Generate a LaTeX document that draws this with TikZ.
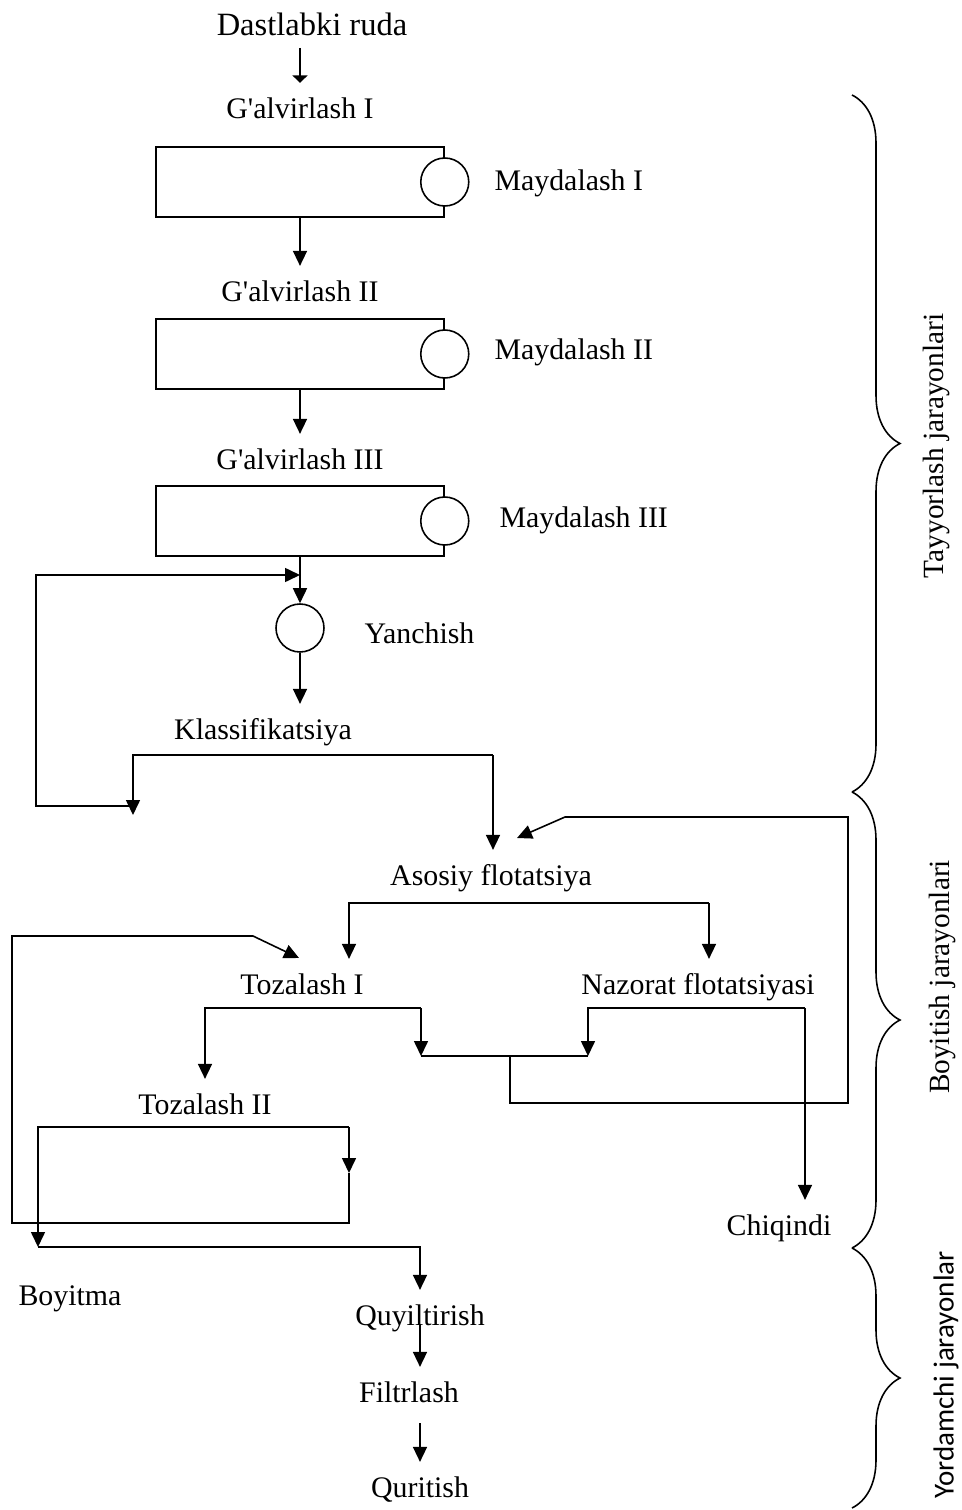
\documentclass[tikz,border=0pt]{standalone}
\usepackage{fontspec}
\setmainfont{Liberation Serif}
\newfontfamily\carlito{Carlito}
\usetikzlibrary{arrows.meta,decorations.pathreplacing}

\begin{document}
\begin{tikzpicture}[
    x=0.02cm, y=-0.02cm,
    lbl/.style={inner xsep=1pt, inner ysep=0pt, outer ysep=8pt,
      text height=12pt, text depth=4pt, font=\fontsize{17}{20}\selectfont},
    side/.style={rotate=90, inner sep=0pt, font=\fontsize{16.7}{20}\selectfont},
    screen/.style={draw, minimum width=5.76cm, minimum height=1.4cm, inner sep=0pt},
    crusher/.style={circle, draw, fill=white, minimum size=0.96cm, inner sep=0pt},
    flow/.style={-{Triangle[length=0.3cm,width=0.28cm]}},
    phase/.style={decorate, decoration={brace, amplitude=0.96cm}},
    line width=0.9pt
  ]
  \useasboundingbox (0,0) rectangle (962,1510);

  \node[lbl, font=\fontsize{18.5}{22}\selectfont] (ruda) at (312,28) {Dastlabki ruda};
  \node[lbl] (g1) at (300,111) {G\textquotesingle alvirlash I};
  \node[screen] (s1) at (300,182) {};
  \node[crusher] (c1) at (s1.east) {};
  \node[lbl, anchor=west] (m1) at (492,183) {Maydalash I};
  \node[lbl] (g2) at (300,294) {G\textquotesingle alvirlash II};
  \node[screen] (s2) at (300,354) {};
  \node[crusher] (c2) at (s2.east) {};
  \node[lbl, anchor=west] (m2) at (492,352) {Maydalash II};
  \node[lbl] (g3) at (300,462) {G\textquotesingle alvirlash III};
  \node[screen] (s3) at (300,521) {};
  \node[crusher] (c3) at (s3.east) {};
  \node[lbl, anchor=west] (m3) at (497,520) {Maydalash III};
  \node[crusher] (yan) at (300,628) {};
  \node[lbl, anchor=west] (yanl) at (362,636) {Yanchish};
  \node[lbl] (klass) at (263,732) {Klassifikatsiya};
  \node[lbl] (asos) at (491,878) {Asosiy flotatsiya};
  \node[lbl] (toz1) at (302,987) {Tozalash I};
  \node[lbl] (naz) at (698,987) {Nazorat flotatsiyasi};
  \node[lbl] (toz2) at (205,1107) {Tozalash II};
  \node[lbl] (chiq) at (779,1228) {Chiqindi};
  \node[lbl] (boyitma) at (70,1298) {Boyitma};
  \node[lbl] (quy) at (420,1318) {Quyiltirish};
  \node[lbl] (filt) at (409,1395) {Filtrlash};
  \node[lbl] (quri) at (420,1490) {Quritish};

  \node[side] (tay) at (936,446) {Tayyorlash jarayonlari};
  \node[side] (boy) at (942,977) {Boyitish jarayonlari};
  \node[side, font=\carlito\fontsize{16.5}{20}\selectfont] (yor) at (946,1375) {Yordamchi jarayonlar};

  \coordinate (rudaout) at (300,48);
  \coordinate (retin) at (300,575);
  \coordinate (retout) at (133,806);
  \coordinate (kl) at (133,755);
  \coordinate (kr) at (493,755);
  \coordinate (coarse) at (133,815);
  \coordinate (asosin) at (517,838);
  \coordinate (al) at (349,903);
  \coordinate (ar) at (709,903);
  \coordinate (tozin) at (299,958);
  \coordinate (t1l) at (205,1008);
  \coordinate (t1r) at (421,1008);
  \coordinate (nl) at (588,1008);
  \coordinate (nr) at (805,1008);
  \coordinate (ml) at (421,1056);
  \coordinate (mr) at (588,1056);
  \coordinate (mid) at (510,1056);
  \coordinate (t2l) at (38,1127);
  \coordinate (t2r) at (349,1127);
  \coordinate (t2a) at (349,1173);
  \coordinate (boyin) at (38,1247);

  \draw[-{Triangle[length=1.5mm,width=3mm]}] (rudaout) -- (g1.north);
  \draw[flow] (s1.south) -- (g2.north);
  \draw[flow] (s2.south) -- (g3.north);
  \draw[flow] (s3.south) -- (yan.north);
  \draw[flow] (retout) -- (36,806) -- (36,575) -- (retin);
  \draw[flow] (yan.south) -- (yan.south |- klass.north);
  \draw[flow] (kr) -- (kl) -- (coarse);
  \draw[flow] (kr) -- (kr |- asos.north);
  \draw[flow] (ar) -- (al) -- (al |- toz1.north);
  \draw[flow] (ar) -- (ar |- naz.north);
  \draw[flow] (t1r) -- (t1l) -- (toz2.north);
  \draw[flow] (t1r) -- (ml);
  \draw[flow] (nr) -- (nl) -- (mr);
  \draw[flow] (nr) -- (nr |- chiq.north);
  \draw (ml) -- (mr);
  \draw[flow] (mid) -- (510,1103) -- (848,1103) -- (848,817) -- (565,817) -- (asosin);
  \draw[flow] (t2r) -- (t2l) -- (boyin);
  \draw[flow] (t2r) -- (t2a);
  \draw[flow] (t2a) -- (349,1223) -- (12,1223) -- (12,936) -- (253,936) -- (tozin);
  \draw[flow] (boyin) -- (quy.north |- boyin) -- (quy.north);
  \draw[flow] (quy.base) -- (quy.base |- filt.north);
  \draw[flow] (quy.base |- filt.south) -- (quy.base |- quri.north);

  \draw[phase] (852,95) -- (852,792);
  \draw[phase] (852,792) -- (852,1248);
  \draw[phase] (852,1248) -- (852,1508);
\end{tikzpicture}
\end{document}
